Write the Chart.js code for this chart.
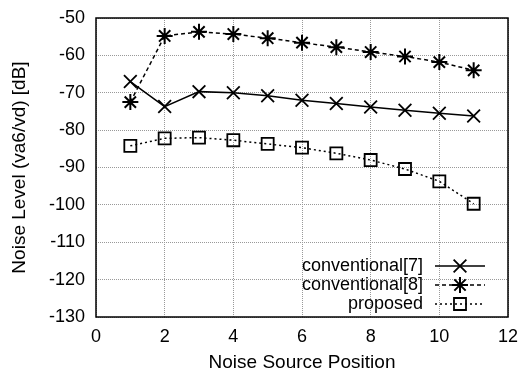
<!DOCTYPE html>
<html>
<head>
<meta charset="utf-8">
<script src="https://cdn.jsdelivr.net/npm/chart.js@4"></script>
<style>
  html, body { margin: 0; padding: 0; background: #fff; }
  #wrap { width: 519px; height: 372px; }
</style>
</head>
<body>
<div id="wrap"><canvas id="noiseChart" width="519" height="372"></canvas></div>
<script>
const positions = [1, 2, 3, 4, 5, 6, 7, 8, 9, 10, 11];
const conv7 = [-67, -73.7, -69.7, -70, -70.8, -72, -72.9, -73.8, -74.7, -75.5, -76.2];
const conv8 = [-72.5, -54.8, -53.7, -54.3, -55.4, -56.6, -57.8, -59.1, -60.3, -61.8, -64];
const proposed = [-84.2, -82.2, -82, -82.7, -83.7, -84.7, -86.2, -88, -90.4, -93.7, -99.7];
const labels = ["conventional[7]", "conventional[8]", "proposed"];

const FONT = "'Liberation Sans', Arial, sans-serif";

function toPoints(vals) {
  return positions.map((x, i) => ({ x: x, y: vals[i] }));
}

// frame around plot + gnuplot style legend in lower right
const framePlugin = {
  id: "frame",
  afterDraw(chart) {
    const ctx = chart.ctx;
    const a = chart.chartArea;
    ctx.save();
    ctx.strokeStyle = "#000";
    ctx.lineWidth = 1.5;
    ctx.strokeRect(a.left, a.top, a.right - a.left, a.bottom - a.top);

    ctx.font = "18px " + FONT;
    ctx.textAlign = "right";
    ctx.textBaseline = "middle";
    chart.data.datasets.forEach((ds, i) => {
      const y = a.bottom - 51 + i * 19;
      const textRight = a.right - 85;
      ctx.fillStyle = "#000";
      ctx.fillText(ds.label, textRight, y);
      const x0 = textRight + 12, x1 = a.right - 23;
      ctx.strokeStyle = "#000";
      ctx.lineWidth = ds.borderWidth;
      ctx.setLineDash(ds.borderDash || []);
      ctx.beginPath();
      ctx.moveTo(x0, y);
      ctx.lineTo(x1, y);
      ctx.stroke();
      ctx.setLineDash([]);
      ctx.fillStyle = "rgba(0,0,0,0)";
      ctx.lineWidth = ds.pointBorderWidth;
      Chart.helpers.drawPoint(ctx, {
        pointStyle: ds.pointStyle,
        radius: ds.pointRadius,
        borderWidth: ds.pointBorderWidth,
        rotation: 0
      }, (x0 + x1) / 2, y);
    });
    ctx.restore();
  }
};

const chart = new Chart(document.getElementById("noiseChart"), {
  type: "line",
  data: {
    datasets: [
      {
        label: labels[0],
        data: toPoints(conv7),
        borderColor: "#000",
        borderWidth: 1.5,
        pointStyle: "crossRot",
        pointRadius: 9,
        pointBorderWidth: 1.8,
        pointBorderColor: "#000",
        pointBackgroundColor: "rgba(0,0,0,0)"
      },
      {
        label: labels[1],
        data: toPoints(conv8),
        borderColor: "#000",
        borderWidth: 1.5,
        borderDash: [4, 3],
        pointStyle: "star",
        pointRadius: 8,
        pointBorderWidth: 2,
        pointBorderColor: "#000",
        pointBackgroundColor: "rgba(0,0,0,0)"
      },
      {
        label: labels[2],
        data: toPoints(proposed),
        borderColor: "#000",
        borderWidth: 1.5,
        borderDash: [2, 3],
        pointStyle: "rect",
        pointRadius: 8.5,
        pointBorderWidth: 1.8,
        pointBorderColor: "#000",
        pointBackgroundColor: "rgba(0,0,0,0)"
      }
    ]
  },
  options: {
    responsive: false,
    animation: false,
    layout: { padding: { left: 0, top: 18, right: 11, bottom: 0 } },
    plugins: {
      legend: { display: false },
      tooltip: { enabled: false }
    },
    scales: {
      x: {
        type: "linear",
        min: 0,
        max: 12,
        ticks: { stepSize: 2, color: "#000", font: { family: FONT, size: 18 }, padding: 9 },
        grid: { color: "#999", lineWidth: 1, drawTicks: false },
        border: { display: false, dash: [1, 1] },
        title: { display: true, text: "Noise Source Position", color: "#000", font: { family: FONT, size: 19, lineHeight: 1 }, padding: { top: 4, bottom: 0 } },
        afterFit(scale) {
          scale.height = 55;
          scale.paddingRight = 0;
          scale.paddingLeft = 0;
        }
      },
      y: {
        min: -130,
        max: -50,
        ticks: { stepSize: 10, color: "#000", font: { family: FONT, size: 18 }, padding: 11 },
        grid: { color: "#999", lineWidth: 1, drawTicks: false },
        border: { display: false, dash: [1, 1] },
        title: { display: true, text: "Noise Level (va6/vd) [dB]", color: "#000", font: { family: FONT, size: 19, lineHeight: 1 }, padding: { top: 10, bottom: 0 } },
        afterFit(scale) {
          scale.width = 96;
          scale.paddingTop = 0;
          scale.paddingBottom = 0;
        }
      }
    }
  },
  plugins: [framePlugin]
});
</script>
</body>
</html>
